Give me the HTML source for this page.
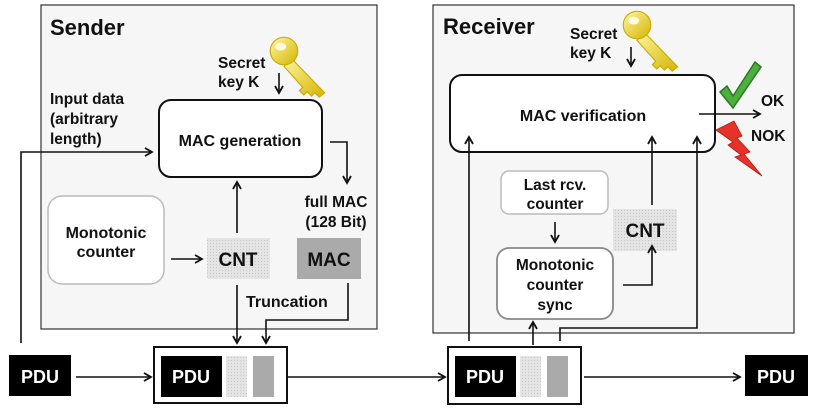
<!DOCTYPE html>
<html><head><meta charset="utf-8"><style>
html,body{margin:0;padding:0;background:#fff;}
svg{display:block;}
text{font-family:"Liberation Sans",Arial,sans-serif;font-weight:bold;fill:#111;}
</style></head><body>
<svg width="819" height="408" viewBox="0 0 819 408" xmlns="http://www.w3.org/2000/svg">
<defs>
<marker id="a" markerWidth="10" markerHeight="10" refX="8" refY="5" orient="auto" markerUnits="userSpaceOnUse">
<path d="M1,1 L8,5 L1,9" fill="none" stroke="#111" stroke-width="1.8"/>
</marker>
<pattern id="dot" width="3" height="3" patternUnits="userSpaceOnUse">
<rect width="3" height="3" fill="#e4e4e4"/><rect width="1" height="1" fill="#c8c8c8"/>
</pattern>
<linearGradient id="kg" x1="0" y1="0" x2="1" y2="1"><stop offset="0" stop-color="#fff6a0"/><stop offset="1" stop-color="#d4b400"/></linearGradient>
</defs>

<!-- Sender panel -->
<rect x="41" y="5" width="336" height="324" fill="#f6f6f6" stroke="#333" stroke-width="1.2"/>
<text x="50" y="35" font-size="22">Sender</text>
<text x="218" y="68" font-size="15.5">Secret</text>
<text x="218" y="87" font-size="15.5">key K</text>
<g transform="translate(284,51) scale(1.1)">
<path d="M6,6 L37,38 L32,42 L28,38 L25,41 L21,37 L18,40 L14,36 L17,33 L0,14 Z" fill="url(#kg)" stroke="#c9a800" stroke-width="1"/>
<circle cx="0" cy="0" r="12.5" fill="url(#kg)" stroke="#c9a800"/>
<ellipse cx="-3" cy="-4" rx="5" ry="3.5" fill="#fffbe0"/>
</g>
<line x1="279" y1="73" x2="279" y2="93" stroke="#111" stroke-width="1.6" marker-end="url(#a)"/>
<rect x="159" y="100" width="163" height="77" rx="12" fill="#fff" stroke="#111" stroke-width="2"/>
<text x="240" y="146" font-size="16" text-anchor="middle">MAC generation</text>
<text x="50" y="104" font-size="15.5">Input data</text>
<text x="50" y="124" font-size="15.5">(arbitrary</text>
<text x="50" y="144" font-size="15.5">length)</text>
<polyline points="21,343 21,152 152,152" fill="none" stroke="#111" stroke-width="1.6" marker-end="url(#a)"/>
<polyline points="330,142 347,142 347,183" fill="none" stroke="#111" stroke-width="1.6" marker-end="url(#a)"/>
<text x="336" y="207" font-size="15.5" text-anchor="middle">full MAC</text>
<text x="336" y="227" font-size="15.5" text-anchor="middle">(128 Bit)</text>
<rect x="297" y="238" width="64" height="41" fill="#aaa"/>
<text x="329" y="266" font-size="19" text-anchor="middle">MAC</text>
<rect x="48" y="196" width="116" height="88" rx="14" fill="#fff" stroke="#bbb" stroke-width="1.5"/>
<text x="106" y="238" font-size="16" text-anchor="middle">Monotonic</text>
<text x="106" y="257" font-size="16" text-anchor="middle">counter</text>
<line x1="171" y1="259" x2="202" y2="259" stroke="#111" stroke-width="1.6" marker-end="url(#a)"/>
<rect x="207" y="238" width="63" height="41" fill="url(#dot)"/>
<text x="238" y="266" font-size="19" text-anchor="middle">CNT</text>
<line x1="237" y1="233" x2="237" y2="182" stroke="#111" stroke-width="1.6" marker-end="url(#a)"/>
<line x1="237" y1="285" x2="237" y2="343" stroke="#111" stroke-width="1.6" marker-end="url(#a)"/>
<text x="246" y="307" font-size="16">Truncation</text>
<polyline points="348,283 348,320 266,320 266,343" fill="none" stroke="#111" stroke-width="1.6" marker-end="url(#a)"/>

<!-- bottom row sender -->
<rect x="9" y="355" width="62" height="41" fill="#000"/>
<text x="40" y="383" font-size="18" text-anchor="middle" style="fill:#fff">PDU</text>
<line x1="76" y1="377" x2="151" y2="377" stroke="#111" stroke-width="1.6" marker-end="url(#a)"/>
<rect x="154" y="347" width="133" height="56" fill="#fff" stroke="#111" stroke-width="2"/>
<rect x="161" y="356" width="61" height="41" fill="#000"/>
<text x="191" y="383" font-size="18" text-anchor="middle" style="fill:#fff">PDU</text>
<rect x="226" y="356" width="21" height="41" fill="url(#dot)"/>
<rect x="253" y="356" width="21" height="41" fill="#aaa"/>
<line x1="287" y1="377" x2="445" y2="377" stroke="#111" stroke-width="1.6" marker-end="url(#a)"/>

<!-- Receiver panel -->
<rect x="433" y="5" width="361" height="328" fill="#f6f6f6" stroke="#333" stroke-width="1.2"/>
<text x="443" y="34" font-size="22">Receiver</text>
<text x="570" y="39" font-size="15.5">Secret</text>
<text x="570" y="58" font-size="15.5">key K</text>
<g transform="translate(637,25) scale(1.1)">
<path d="M6,6 L37,38 L32,42 L28,38 L25,41 L21,37 L18,40 L14,36 L17,33 L0,14 Z" fill="url(#kg)" stroke="#c9a800" stroke-width="1"/>
<circle cx="0" cy="0" r="12.5" fill="url(#kg)" stroke="#c9a800"/>
<ellipse cx="-3" cy="-4" rx="5" ry="3.5" fill="#fffbe0"/>
</g>
<line x1="631" y1="47" x2="631" y2="66" stroke="#111" stroke-width="1.6" marker-end="url(#a)"/>
<rect x="450" y="75" width="265" height="77" rx="12" fill="#fff" stroke="#111" stroke-width="2"/>
<text x="583" y="121" font-size="16" text-anchor="middle">MAC verification</text>
<line x1="699" y1="114" x2="760" y2="114" stroke="#111" stroke-width="1.6" marker-end="url(#a)"/>
<path d="M720,92 L727,86 L733,96 L755,62 L761,67 L733,108 Z" fill="#4caf40" stroke="#2a7a22" stroke-width="1.5"/>
<text x="761" y="106" font-size="15.5">OK</text>
<text x="751" y="141" font-size="15.5">NOK</text>
<path d="M716,130 L734,121 L742,136 L737,138 L750,152 L744,154 L762,176 L735,157 L741,155 L728,145 L733,142 Z" fill="#e5332a" stroke="#b01a12" stroke-width="0.8"/>
<rect x="501" y="171" width="107" height="43" rx="8" fill="#fff" stroke="#bbb" stroke-width="1.5"/>
<text x="555" y="190" font-size="15.5" text-anchor="middle">Last rcv.</text>
<text x="555" y="209" font-size="15.5" text-anchor="middle">counter</text>
<line x1="555" y1="222" x2="555" y2="242" stroke="#111" stroke-width="1.6" marker-end="url(#a)"/>
<rect x="497" y="248" width="116" height="71" rx="12" fill="#fff" stroke="#888" stroke-width="1.8"/>
<text x="555" y="270" font-size="15.5" text-anchor="middle">Monotonic</text>
<text x="555" y="290" font-size="15.5" text-anchor="middle">counter</text>
<text x="555" y="310" font-size="15.5" text-anchor="middle">sync</text>
<rect x="613" y="209" width="64" height="42" fill="url(#dot)"/>
<text x="645" y="237" font-size="19" text-anchor="middle">CNT</text>
<polyline points="623,285 652,285 652,246" fill="none" stroke="#111" stroke-width="1.6" marker-end="url(#a)"/>
<line x1="652" y1="205" x2="652" y2="137" stroke="#111" stroke-width="1.6" marker-end="url(#a)"/>
<line x1="469" y1="341" x2="469" y2="137" stroke="#111" stroke-width="1.6" marker-end="url(#a)"/>
<line x1="533" y1="345" x2="533" y2="322" stroke="#111" stroke-width="1.6" marker-end="url(#a)"/>
<polyline points="560,341 560,328 697,328 697,137" fill="none" stroke="#111" stroke-width="1.6" marker-end="url(#a)"/>

<rect x="448" y="347" width="133" height="57" fill="#fff" stroke="#111" stroke-width="2"/>
<rect x="455" y="356" width="61" height="41" fill="#000"/>
<text x="485" y="383" font-size="18" text-anchor="middle" style="fill:#fff">PDU</text>
<rect x="520" y="356" width="21" height="41" fill="url(#dot)"/>
<rect x="547" y="356" width="21" height="41" fill="#aaa"/>
<line x1="584" y1="377" x2="740" y2="377" stroke="#111" stroke-width="1.6" marker-end="url(#a)"/>
<rect x="745" y="355" width="63" height="41" fill="#000"/>
<text x="776" y="383" font-size="18" text-anchor="middle" style="fill:#fff">PDU</text>
</svg>
</body></html>
